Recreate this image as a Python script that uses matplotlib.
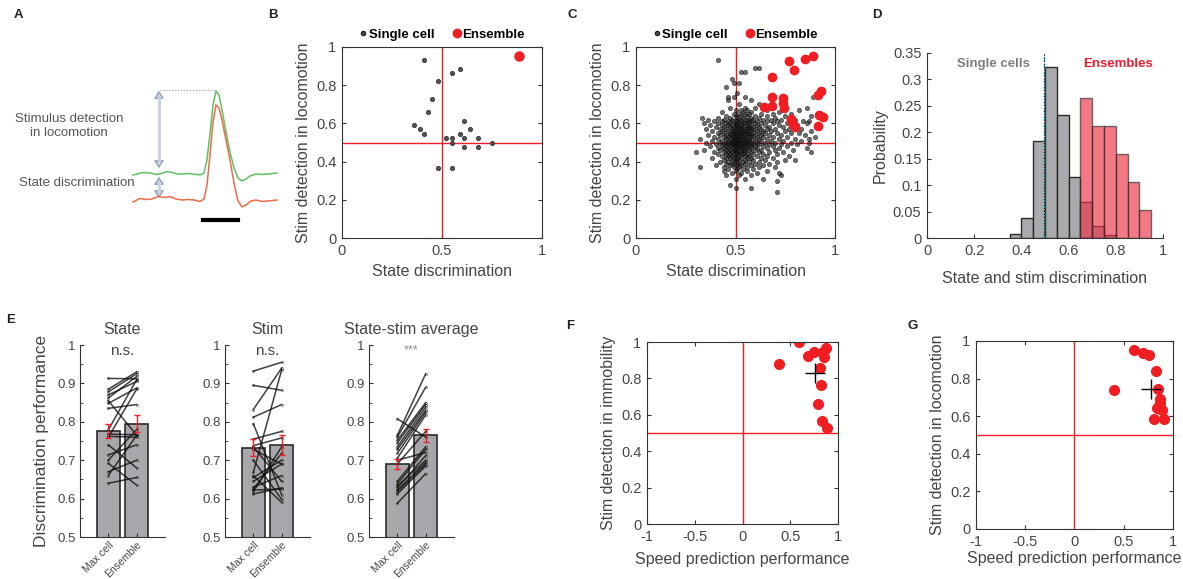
import numpy as np
import matplotlib
matplotlib.use('Agg')
import matplotlib.pyplot as plt
from matplotlib.lines import Line2D
from matplotlib.patches import FancyArrowPatch

plt.rcParams['font.family'] = ['Liberation Sans', 'DejaVu Sans']

W, H = 1183, 579
TXT = '#454545'
AX = '#333333'
RED = '#F01E23'

# ---------------- data ----------------
# A: schematic traces (pixel coordinates)
a_green_x = [133, 143, 150, 157, 163, 167, 172, 177, 182, 187, 193, 200, 204, 207, 210, 213, 216, 219, 222, 226,
             230, 234, 238, 242, 246, 250, 256, 262, 268, 277]
a_green_y = [175, 172.5, 173, 174.5, 173, 171.5, 172.5, 174, 174, 173.5, 174, 175, 173, 160, 133, 105, 91, 95, 110, 132,
             152, 168, 178, 181, 179, 176, 174, 174.5, 174, 173]
a_red_x = [133, 140, 146, 152, 158, 164, 170, 176, 182, 188, 194, 200, 204, 207, 210, 213, 216, 219, 222, 226,
           230, 234, 238, 242, 246, 251, 256, 262, 268, 277]
a_red_y = [202, 198.5, 199.5, 199, 196.5, 197.5, 196.5, 199, 200, 199.5, 200, 201.5, 199, 185, 155, 122, 105, 108, 120, 140,
           160, 183, 201, 207, 205, 201, 200, 201.5, 201, 200]

# B: single cells and the ensemble of one session
b_cell_x = [0.41, 0.59, 0.55, 0.48, 0.45, 0.43, 0.36, 0.39, 0.41, 0.61, 0.64, 0.59, 0.52, 0.55, 0.61, 0.68,
            0.55, 0.75, 0.61, 0.68, 0.48, 0.55]
b_cell_y = [0.93, 0.886, 0.863, 0.82, 0.729, 0.658, 0.592, 0.569, 0.546, 0.615, 0.569, 0.546, 0.524, 0.524,
            0.524, 0.524, 0.50, 0.50, 0.478, 0.478, 0.364, 0.364]
b_ens_x = [0.885]
b_ens_y = [0.953]

# C: all single cells, as rows (stim detection value, state discrimination values)
c_cell_rows = [
    (0.93, [0.41]),
    (0.89, [0.60, 0.62]),
    (0.87, [0.53, 0.55]),
    (0.83, [0.48]),
    (0.81, [0.49, 0.52]),
    (0.79, [0.45]),
    (0.76, [0.51]),
    (0.74, [0.46, 0.49, 0.55, 0.89]),
    (0.72, [0.46, 0.58]),
    (0.70, [0.52, 0.62]),
    (0.68, [0.47, 0.55, 0.60, 0.86]),
    (0.67, [0.50, 0.53, 0.56, 0.66, 0.82]),
    (0.66, [0.43, 0.54, 0.58, 0.72]),
    (0.65, [0.49, 0.52, 0.55, 0.57, 0.63, 0.69, 0.78]),
    (0.64, [0.45, 0.50, 0.53, 0.56, 0.60, 0.66, 0.75, 0.88]),
    (0.63, [0.33, 0.41, 0.47, 0.51, 0.54, 0.58, 0.62, 0.70]),
    (0.62, [0.36, 0.44, 0.48, 0.52, 0.55, 0.57, 0.59, 0.64, 0.68, 0.73, 0.80]),
    (0.61, [0.39, 0.43, 0.46, 0.49, 0.51, 0.53, 0.56, 0.58, 0.61, 0.66, 0.71, 0.84, 0.87]),
    (0.60, [0.34, 0.41, 0.45, 0.47, 0.50, 0.52, 0.54, 0.55, 0.57, 0.60, 0.63, 0.69, 0.76, 0.86]),
    (0.59, [0.37, 0.43, 0.46, 0.48, 0.50, 0.51, 0.53, 0.56, 0.58, 0.61, 0.65, 0.72, 0.81]),
    (0.58, [0.40, 0.44, 0.47, 0.49, 0.51, 0.53, 0.54, 0.56, 0.57, 0.59, 0.62, 0.67, 0.74, 0.79]),
    (0.57, [0.35, 0.42, 0.45, 0.48, 0.50, 0.52, 0.53, 0.55, 0.57, 0.58, 0.60, 0.63, 0.66, 0.70, 0.77, 0.83]),
    (0.56, [0.38, 0.43, 0.46, 0.48, 0.49, 0.51, 0.52, 0.54, 0.55, 0.56, 0.58, 0.61, 0.64, 0.68, 0.75, 0.88]),
    (0.55, [0.41, 0.44, 0.47, 0.49, 0.50, 0.52, 0.53, 0.54, 0.56, 0.57, 0.59, 0.62, 0.65, 0.71, 0.78, 0.82]),
    (0.54, [0.36, 0.42, 0.45, 0.47, 0.48, 0.50, 0.51, 0.53, 0.54, 0.55, 0.57, 0.58, 0.60, 0.63, 0.67, 0.73, 0.85]),
    (0.53, [0.39, 0.44, 0.46, 0.48, 0.49, 0.51, 0.52, 0.53, 0.55, 0.56, 0.58, 0.61, 0.64, 0.69, 0.76, 0.90]),
    (0.52, [0.32, 0.41, 0.45, 0.47, 0.49, 0.50, 0.51, 0.52, 0.54, 0.55, 0.57, 0.59, 0.62, 0.66, 0.72, 0.80, 0.87]),
    (0.51, [0.38, 0.43, 0.46, 0.48, 0.49, 0.50, 0.52, 0.53, 0.54, 0.56, 0.57, 0.60, 0.63, 0.68, 0.74, 0.83]),
    (0.50, [0.35, 0.42, 0.45, 0.47, 0.48, 0.50, 0.51, 0.52, 0.53, 0.55, 0.56, 0.58, 0.61, 0.65, 0.70, 0.78, 0.87]),
    (0.49, [0.40, 0.44, 0.46, 0.48, 0.49, 0.51, 0.52, 0.54, 0.55, 0.57, 0.59, 0.62, 0.67, 0.73, 0.81]),
    (0.48, [0.37, 0.43, 0.45, 0.47, 0.49, 0.50, 0.52, 0.53, 0.55, 0.56, 0.58, 0.60, 0.64, 0.69, 0.76]),
    (0.47, [0.41, 0.44, 0.46, 0.48, 0.50, 0.51, 0.53, 0.54, 0.56, 0.58, 0.61, 0.66, 0.72, 0.86]),
    (0.46, [0.34, 0.42, 0.45, 0.47, 0.49, 0.50, 0.52, 0.54, 0.55, 0.57, 0.60, 0.63, 0.70, 0.79]),
    (0.45, [0.30, 0.39, 0.44, 0.46, 0.48, 0.50, 0.51, 0.53, 0.55, 0.58, 0.62, 0.67, 0.74, 0.88]),
    (0.44, [0.41, 0.45, 0.47, 0.49, 0.51, 0.53, 0.54, 0.56, 0.59, 0.64, 0.71]),
    (0.43, [0.43, 0.46, 0.48, 0.50, 0.52, 0.55, 0.57, 0.61, 0.66, 0.77]),
    (0.42, [0.38, 0.45, 0.47, 0.49, 0.51, 0.53, 0.56, 0.58, 0.63, 0.69]),
    (0.41, [0.44, 0.48, 0.50, 0.52, 0.55, 0.59, 0.65, 0.75, 0.80]),
    (0.40, [0.42, 0.46, 0.49, 0.51, 0.54, 0.57, 0.62, 0.71]),
    (0.39, [0.45, 0.48, 0.52, 0.55, 0.60, 0.67]),
    (0.38, [0.40, 0.47, 0.50, 0.53, 0.58, 0.64]),
    (0.37, [0.32, 0.44, 0.49, 0.52, 0.56, 0.62, 0.70]),
    (0.36, [0.46, 0.51, 0.54, 0.59]),
    (0.35, [0.44, 0.50, 0.56, 0.66]),
    (0.34, [0.48, 0.53, 0.61, 0.72]),
    (0.33, [0.45, 0.52, 0.58, 0.73]),
    (0.31, [0.50, 0.55, 0.64]),
    (0.30, [0.71]),
    (0.28, [0.47]),
    (0.26, [0.50, 0.58]),
    (0.24, [0.71]),
]
c_ens_x = [0.770, 0.849, 0.889, 0.794, 0.683, 0.685, 0.643, 0.685, 0.737, 0.740, 0.744, 0.779, 0.786,
           0.791, 0.799, 0.931, 0.913, 0.921, 0.938, 0.916]
c_ens_y = [0.928, 0.935, 0.953, 0.880, 0.843, 0.740, 0.688, 0.691, 0.731, 0.705, 0.682, 0.623, 0.609,
           0.597, 0.583, 0.771, 0.749, 0.644, 0.635, 0.586]

# D: histogram (bin edges and probabilities)
d_cell_edges = [0.35, 0.40, 0.45, 0.50, 0.55, 0.60, 0.65, 0.70, 0.75, 0.80]
d_cell_prob = [0.008, 0.037, 0.183, 0.324, 0.233, 0.116, 0.069, 0.022, 0.005]
d_ens_edges = [0.65, 0.70, 0.75, 0.80, 0.85, 0.90, 0.95]
d_ens_prob = [0.264, 0.211, 0.211, 0.158, 0.106, 0.053]
d_cell_mean = 0.495

# E: max cell vs ensemble per session
e_groups = ['Max cell', 'Ensemble']
e_titles = ['State', 'Stim', 'State-stim average']
e_sig = ['n.s.', 'n.s.', '***']
e_bar_mean = [[0.775, 0.795], [0.733, 0.739], [0.690, 0.765]]
e_bar_sem = [[0.018, 0.022], [0.022, 0.026], [0.014, 0.017]]
e_state_max = [0.913, 0.885, 0.878, 0.870, 0.862, 0.855, 0.848, 0.835, 0.779, 0.768, 0.762, 0.760, 0.740,
               0.714, 0.700, 0.692, 0.670, 0.660, 0.640]
e_state_ens = [0.912, 0.930, 0.925, 0.905, 0.918, 0.765, 0.888, 0.845, 0.910, 0.766, 0.760, 0.885, 0.680,
               0.740, 0.780, 0.635, 0.700, 0.765, 0.655]
e_stim_max = [0.932, 0.895, 0.832, 0.812, 0.795, 0.755, 0.738, 0.735, 0.728, 0.700, 0.668, 0.660, 0.655,
              0.645, 0.630, 0.625, 0.622, 0.618, 0.612]
e_stim_ens = [0.955, 0.882, 0.940, 0.845, 0.610, 0.775, 0.758, 0.645, 0.690, 0.598, 0.935, 0.590, 0.700,
              0.690, 0.660, 0.718, 0.625, 0.735, 0.628]
e_avg_max = [0.808, 0.765, 0.760, 0.752, 0.745, 0.735, 0.728, 0.718, 0.705, 0.700, 0.690, 0.645, 0.638,
             0.632, 0.628, 0.622, 0.618, 0.612, 0.588]
e_avg_ens = [0.760, 0.925, 0.890, 0.850, 0.845, 0.838, 0.830, 0.825, 0.818, 0.720, 0.775, 0.735, 0.728,
             0.700, 0.712, 0.695, 0.690, 0.685, 0.665]

# F, G: speed prediction vs stim detection (ensembles) and their means
f_x = [0.592, 0.379, 0.682, 0.745, 0.840, 0.874, 0.853, 0.815, 0.822, 0.790, 0.829, 0.888]
f_y = [1.0, 0.881, 0.923, 0.943, 0.946, 0.967, 0.916, 0.857, 0.764, 0.662, 0.565, 0.528]
f_mean = (0.756, 0.830)
g_x = [0.607, 0.699, 0.757, 0.829, 0.398, 0.843, 0.865, 0.870, 0.834, 0.888, 0.810, 0.909]
g_y = [0.954, 0.938, 0.928, 0.843, 0.739, 0.747, 0.689, 0.668, 0.645, 0.634, 0.585, 0.585]
g_mean = (0.777, 0.747)


def frac(x0, y0, x1, y1):
    return [x0 / W, 1 - y1 / H, (x1 - x0) / W, (y1 - y0) / H]


def style_box(ax):
    ax.tick_params(direction='in', top=True, right=True, length=3, width=0.8,
                   colors=AX, labelcolor=TXT, labelsize=10.5, pad=4)
    for s in ax.spines.values():
        s.set_color(AX)
        s.set_linewidth(0.8)


fig = plt.figure(figsize=(W / 100, H / 100), dpi=100)

# ---------------- A ----------------
axa = fig.add_axes([0, 0, 1, 1])
axa.set_xlim(0, W)
axa.set_ylim(H, 0)
axa.axis('off')
axa.plot(a_green_x, a_green_y, color='#62BE62', lw=1.1)
axa.plot(a_red_x, a_red_y, color='#EE6A48', lw=1.1)
axa.plot([160, 214], [90, 90], color='#9a9a9a', ls=':', lw=0.8)
for y0, y1 in [(91, 168), (177, 198)]:
    axa.add_patch(FancyArrowPatch((159, y0), (159, y1), arrowstyle='<|-|>,head_length=0.45,head_width=0.3',
                                  mutation_scale=10, lw=0.8, ec='#8C96AA', fc='#C9D1E2',
                                  shrinkA=0, shrinkB=0))
    axa.plot([159, 159], [y0 + 5, y1 - 5], color='#C9D1E2', lw=2.2, solid_capstyle='butt')
axa.plot([203, 238], [219.5, 219.5], color='black', lw=3)
axa.text(69, 126, 'Stimulus detection\nin locomotion', ha='center', va='center', fontsize=9.5,
         color='#555555', linespacing=1.25)
axa.text(77, 183, 'State discrimination', ha='center', va='center', fontsize=9.5, color='#555555')

# ---------------- B ----------------
axb = fig.add_axes(frac(342, 47, 542, 238))
axb.axhline(0.5, color=RED, lw=1)
axb.axvline(0.5, color=RED, lw=1)
axb.plot(b_cell_x, b_cell_y, 'o', ms=3, mfc='#555555', mec='#333333', mew=0.6)
axb.plot(b_ens_x, b_ens_y, 'o', ms=6.5, color=RED)

# ---------------- C ----------------
axc = fig.add_axes(frac(636, 47, 835, 238))
c_cell_x = [x for y, xs in c_cell_rows for x in xs]
c_cell_y = [y for y, xs in c_cell_rows for x in xs]
axc.axhline(0.5, color=RED, lw=1)
axc.axvline(0.5, color=RED, lw=1)
axc.plot(c_cell_x, c_cell_y, 'o', ms=3.2, mfc='#202020', mec='#000000', mew=0.4, alpha=0.65)
axc.plot(c_ens_x, c_ens_y, 'o', ms=6, color=RED)

for ax in (axb, axc):
    style_box(ax)
    ax.set_xlim(0, 1)
    ax.set_ylim(0, 1)
    ax.set_xticks([0, 0.5, 1], ['0', '0.5', '1'])
    ax.set_yticks([0, 0.2, 0.4, 0.6, 0.8, 1], ['0', '0.2', '0.4', '0.6', '0.8', '1'])
    ax.set_xlabel('State discrimination', fontsize=11.5, color=TXT, labelpad=5)
    ax.set_ylabel('Stim detection in locomotion', fontsize=11.5, color=TXT, labelpad=4)
    h = [Line2D([], [], ls='none', marker='o', ms=3, mfc='#555555', mec='#222222'),
         Line2D([], [], ls='none', marker='o', ms=6, color=RED)]
    ax.legend(h, ['Single cell', 'Ensemble'], ncol=2, loc='lower center', bbox_to_anchor=(0.5, 0.99),
              frameon=False, handlelength=0.6, handletextpad=0.1, columnspacing=1.4,
              prop={'weight': 'bold', 'size': 9.5}, borderaxespad=0.2)

# ---------------- D ----------------
axd = fig.add_axes(frac(927, 53, 1163, 238))
axd.bar(d_cell_edges[:-1], d_cell_prob, width=np.diff(d_cell_edges), align='edge',
        color='#A9AAAD', edgecolor='#2b2b2b', lw=1)
axd.bar(d_ens_edges[:-1], d_ens_prob, width=np.diff(d_ens_edges), align='edge',
        color='#EE3344', alpha=0.65, edgecolor='#2b2b2b', lw=1)
axd.axvline(d_cell_mean, color='#20B5C8', ls='--', lw=1)
axd.axvline(d_cell_mean, color='black', ls=':', lw=0.8)
axd.text(0.28, 0.329, 'Single cells', ha='center', va='center', fontsize=9.5, fontweight='bold', color='#7d7d7d')
axd.text(0.81, 0.329, 'Ensembles', ha='center', va='center', fontsize=9.5, fontweight='bold', color='#EE1C30')
axd.set_xlim(0, 1)
axd.set_ylim(0, 0.35)
axd.set_xticks(np.arange(0, 1.01, 0.2), ['0', '0.2', '0.4', '0.6', '0.8', '1'])
axd.set_yticks(np.arange(0, 0.351, 0.05), ['0', '0.05', '0.1', '0.15', '0.2', '0.25', '0.3', '0.35'])
axd.tick_params(direction='in', length=3, width=0.8, colors=AX, labelcolor=TXT, labelsize=10.5, pad=4)
for s in ['top', 'right']:
    axd.spines[s].set_visible(False)
for s in ['left', 'bottom']:
    axd.spines[s].set_color(AX)
axd.set_xlabel('State and stim discrimination', fontsize=11.5, color=TXT, labelpad=10)
axd.set_ylabel('Probability', fontsize=11.5, color=TXT, labelpad=4)

# ---------------- E ----------------
e_pairs = [(e_state_max, e_state_ens), (e_stim_max, e_stim_ens), (e_avg_max, e_avg_ens)]
for i, x0 in enumerate([80, 225, 369]):
    ax = fig.add_axes(frac(x0, 345, x0 + 85, 537))
    ax.bar([1, 2], e_bar_mean[i], width=0.8, color='#A8A8AC', edgecolor='#2b2b2b', lw=1.2, zorder=1)
    for l, r in zip(*e_pairs[i]):
        ax.plot([1, 2], [l, r], color='#111111', lw=1.1, alpha=0.8, marker='o', ms=1.5,
                mfc='none', mew=0.4, zorder=2)
    ax.errorbar([1, 2], e_bar_mean[i], yerr=e_bar_sem[i], fmt='none', ecolor=RED, capsize=2.5,
                elinewidth=1, capthick=1, zorder=3)
    ax.set_xlim(0, 3)
    ax.set_ylim(0.5, 1)
    ax.set_yticks(np.arange(0.5, 1.01, 0.1), ['0.5', '0.6', '0.7', '0.8', '0.9', '1'])
    ax.set_yticks(np.arange(0.55, 1.0, 0.1), minor=True)
    ax.set_xticks([1, 2], e_groups, rotation=45, ha='right', rotation_mode='anchor')
    ax.tick_params(direction='in', length=3, width=0.8, colors=AX, labelcolor=TXT, labelsize=9.5, pad=3)
    ax.tick_params(axis='x', labelsize=7.5, pad=2)
    ax.tick_params(which='minor', direction='in', length=2, width=0.6, colors=AX)
    for s in ['top', 'right']:
        ax.spines[s].set_visible(False)
    for s in ['left', 'bottom']:
        ax.spines[s].set_color(AX)
    ax.set_title(e_titles[i], fontsize=11.5, color=TXT, pad=8)
    if e_sig[i] == '***':
        ax.text(1.5, 0.985, e_sig[i], ha='center', va='center', fontsize=9, color='#888888')
    else:
        ax.text(1.5, 0.985, e_sig[i], ha='center', va='center', fontsize=11, color=TXT)
    if i == 0:
        ax.set_ylabel('Discrimination performance', fontsize=12.5, color=TXT, labelpad=6)

# ---------------- F, G ----------------
axf = fig.add_axes(frac(647, 342, 838, 524))
axg = fig.add_axes(frac(976, 341, 1173, 529))
for ax, xs, ys, mn, lab in [(axf, f_x, f_y, f_mean, 'Stim detection in immobility'),
                            (axg, g_x, g_y, g_mean, 'Stim detection in locomotion')]:
    style_box(ax)
    ax.axhline(0.5, color=RED, lw=1)
    ax.axvline(0, color=RED, lw=1)
    ax.plot(xs, ys, 'o', ms=7, color=RED)
    ax.plot([mn[0]], [mn[1]], '+', ms=14, mew=1, color='black')
    ax.set_xlim(-1, 1)
    ax.set_ylim(0, 1)
    ax.set_xticks([-1, -0.5, 0, 0.5, 1], ['-1', '-0.5', '0', '0.5', '1'])
    ax.set_yticks([0, 0.2, 0.4, 0.6, 0.8, 1], ['0', '0.2', '0.4', '0.6', '0.8', '1'])
    ax.set_xlabel('Speed prediction performance', fontsize=11.5, color=TXT, labelpad=6)
    ax.set_ylabel(lab, fontsize=11.5, color=TXT, labelpad=4)
axg.xaxis.labelpad = 2

# ---------------- panel letters ----------------
for lab, x, y in [('A', 14, 15), ('B', 268, 15), ('C', 568, 15), ('D', 872, 15),
                  ('E', 6, 320), ('F', 566, 326), ('G', 907, 326)]:
    fig.text(x / W, 1 - y / H, lab, fontsize=9.5, fontweight='bold', color='#222222', va='center', ha='left')

fig.savefig('out.png', dpi=100)
